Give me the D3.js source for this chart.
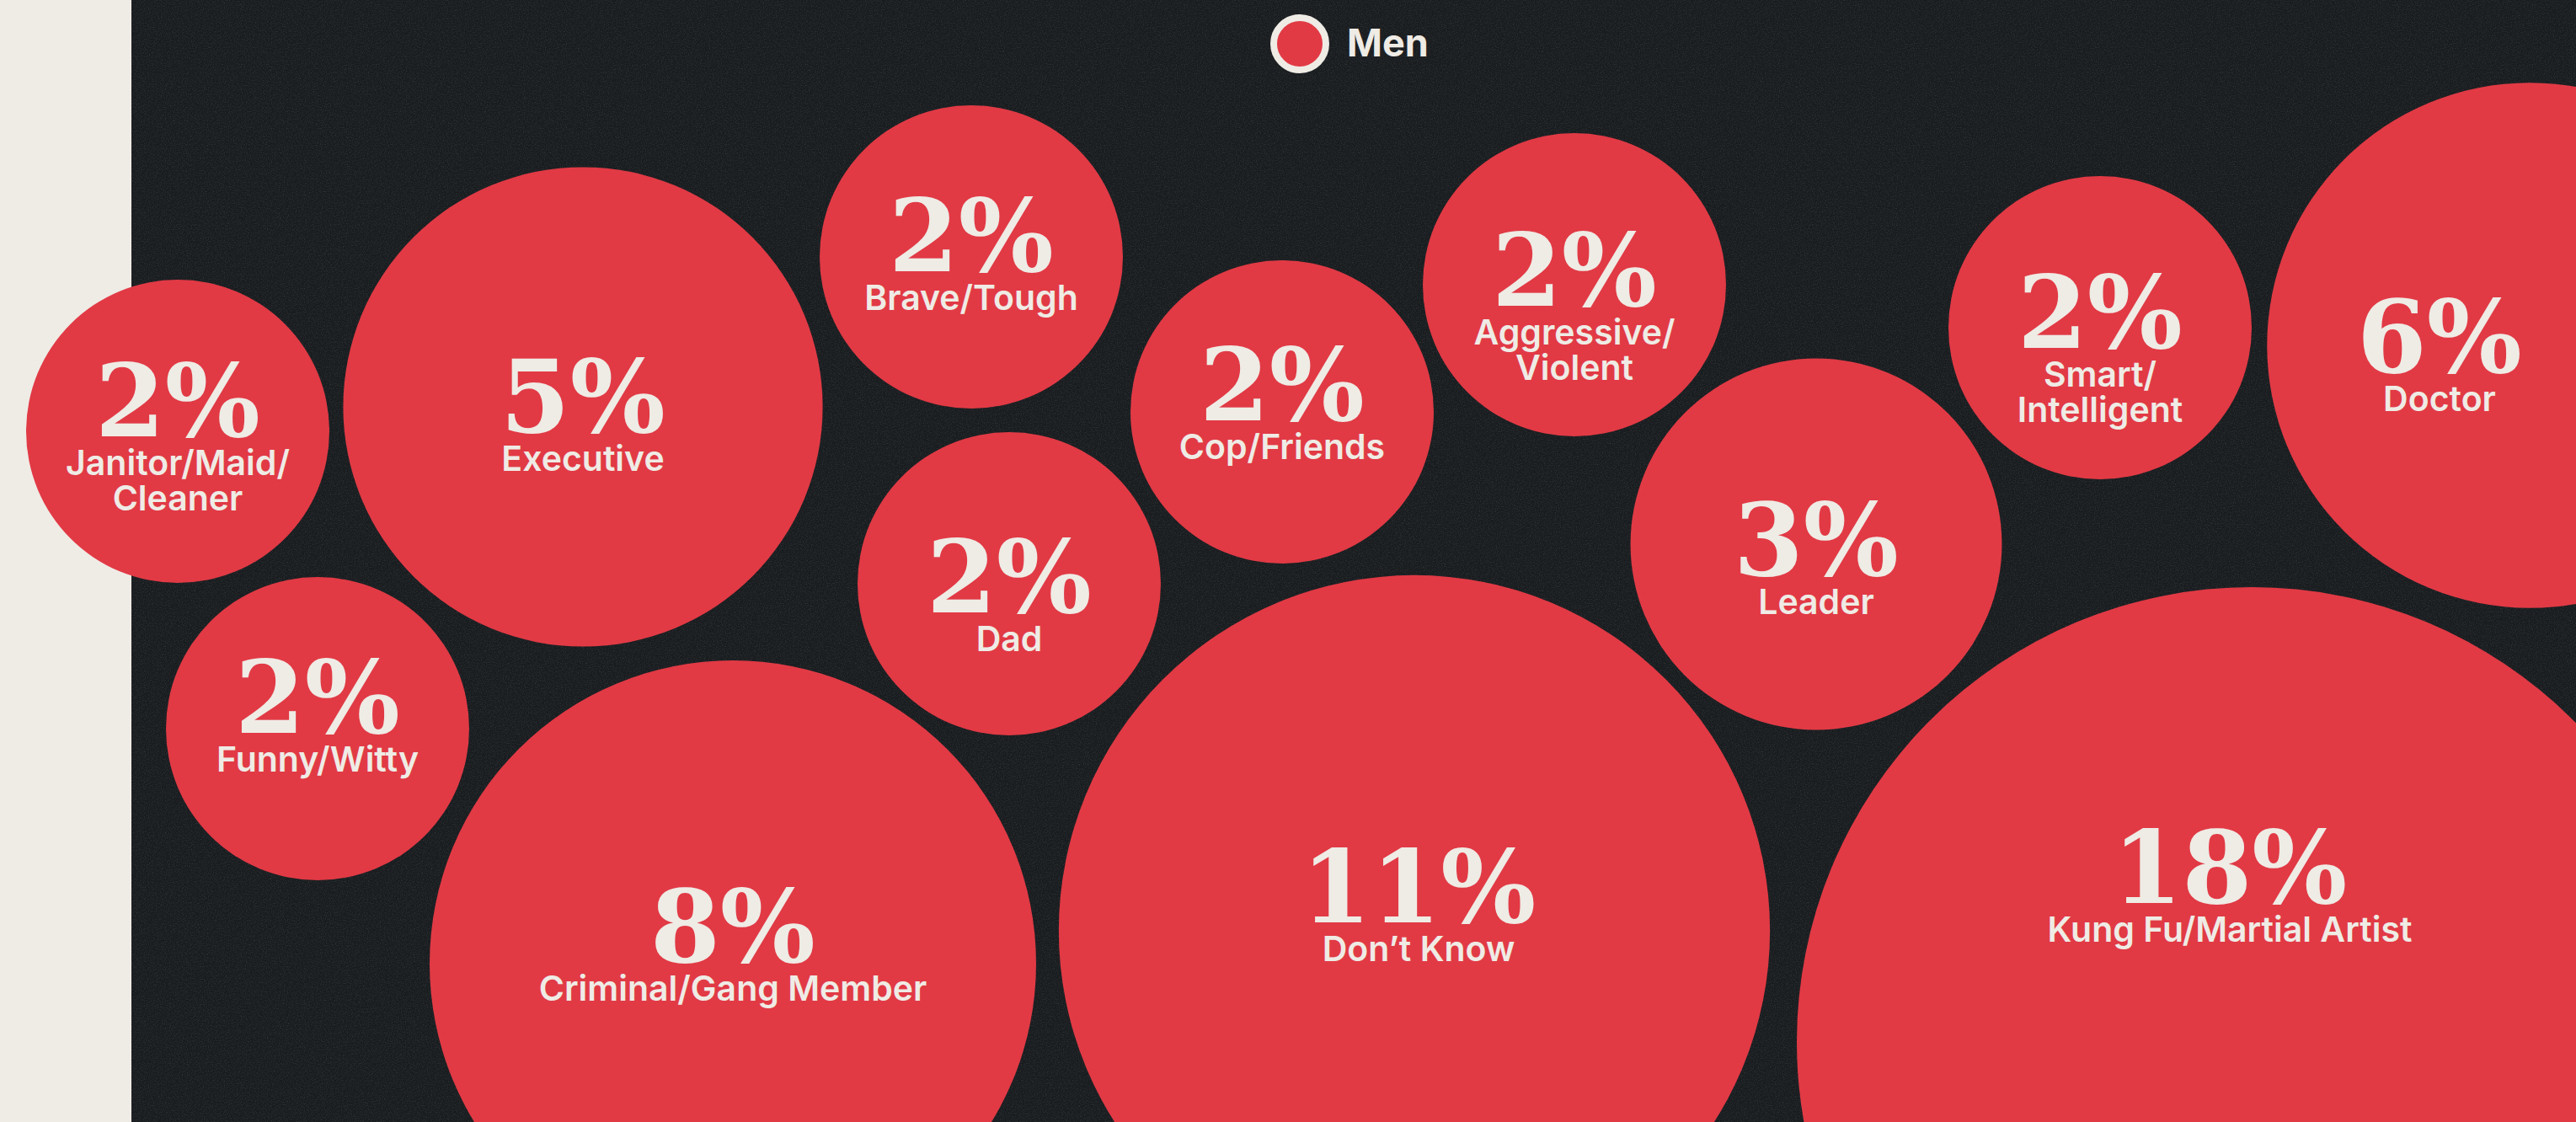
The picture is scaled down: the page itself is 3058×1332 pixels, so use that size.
<!DOCTYPE html>
<html><head><meta charset="utf-8">
<script src="https://cdn.jsdelivr.net/npm/d3@7"></script>
<style>html,body{margin:0;padding:0;background:#1a1d20;overflow:hidden}</style>
</head><body><svg id="chart"></svg>
<script>
// ---- data ----
const categories = ["Janitor/Maid/Cleaner","Executive","Funny/Witty","Brave/Tough","Dad","Cop/Friends","Criminal/Gang Member","Don\u2019t Know","Aggressive/Violent","Leader","Smart/Intelligent","Doctor","Kung Fu/Martial Artist"];
const values = [2, 5, 2, 2, 2, 2, 8, 11, 2, 3, 2, 6, 18];
const labelLines = [["Janitor/Maid/","Cleaner"],["Executive"],["Funny/Witty"],["Brave/Tough"],["Dad"],["Cop/Friends"],["Criminal/Gang Member"],["Don\u2019t Know"],["Aggressive/","Violent"],["Leader"],["Smart/","Intelligent"],["Doctor"],["Kung Fu/Martial Artist"]];
const seriesName = "Men";

// ---- layout (design units, mapped through scales) ----
const centers = [[211,512],[692,483],[377,865],[1153,305],[1198,693],[1522,489],[870,1144],[1679,1105],[1869,338],[2156,646],[2493,389],[3003,410],[2673,1237]];
const labelAnchors = [[211,518],[692,513],[377,870],[1153,322],[1198,727],[1522,499],[870,1142],[1684,1095],[1869,363],[2156,683],[2493,413],[2896,442],[2647,1072]];

const W = 3058, H = 1332;
const RED = "#e13a45", CREAM = "#efebe5", DARK = "#191c1f";

const x = d3.scaleLinear().domain([0, 3058]).range([0, W]);
const y = d3.scaleLinear().domain([0, 1332]).range([0, H]);
const r = d3.scaleSqrt().domain([0, d3.max(values)]).range([0, 540]);

const data = categories.map((c, i) => ({
  category: c, value: values[i], lines: labelLines[i],
  cx: centers[i][0], cy: centers[i][1], lx: labelAnchors[i][0], ly: labelAnchors[i][1]
}));

const svg = d3.select("#chart").attr("width", W).attr("height", H);

// background
svg.append("rect").attr("x", 0).attr("y", 0).attr("width", W).attr("height", H).attr("fill", DARK);
svg.append("rect").attr("x", 0).attr("y", 0).attr("width", x(156)).attr("height", H).attr("fill", CREAM);

// subtle grain
const defs = svg.append("defs");
const f = defs.append("filter").attr("id", "grain").attr("x", 0).attr("y", 0).attr("width", "100%").attr("height", "100%");
f.append("feTurbulence").attr("type", "fractalNoise").attr("baseFrequency", 0.8).attr("numOctaves", 2).attr("seed", 3).attr("result", "n");
f.append("feColorMatrix").attr("in", "n").attr("type", "matrix")
  .attr("values", "0 0 0 0 1  0 0 0 0 1  0 0 0 0 1  0 0 0 -2.2 1.25");
svg.append("rect").attr("x", x(156)).attr("y", 0).attr("width", W - x(156)).attr("height", H)
  .attr("filter", "url(#grain)").attr("opacity", 0.10);

// bubbles
const g = svg.append("g");
g.selectAll("circle.bubble").data(data).join("circle")
  .attr("class", "bubble")
  .attr("cx", d => x(d.cx)).attr("cy", d => y(d.cy)).attr("r", d => r(d.value))
  .attr("fill", RED);

// labels: one text element per bubble (value + category lines)
g.selectAll("text.lab").data(data).join("text")
  .attr("class", "lab")
  .attr("text-anchor", "middle")
  .attr("fill", CREAM)
  .each(function(d) {
    const t = d3.select(this);
    t.append("tspan")
      .attr("x", x(d.lx)).attr("y", y(d.ly))
      .attr("font-family", "'DejaVu Serif', serif").attr("font-weight", 700)
      .attr("font-size", 119)
      .text(d.value + "%");
    d.lines.forEach((ln, j) => {
      t.append("tspan")
        .attr("x", x(d.lx)).attr("y", y(d.ly + 46 + j * 42))
        .attr("font-family", "Inter, 'Noto Sans', sans-serif").attr("font-weight", 600)
        .attr("font-size", 41)
        .text(ln);
    });
  });

// legend
const lg = svg.append("g");
lg.append("circle").attr("cx", x(1543)).attr("cy", y(52)).attr("r", 31)
  .attr("fill", RED).attr("stroke", CREAM).attr("stroke-width", 8);
lg.append("text").attr("x", x(1599)).attr("y", y(67))
  .attr("font-family", "Inter, sans-serif").attr("font-weight", 700).attr("font-size", 45)
  .attr("fill", CREAM).text(seriesName);
</script>
</body></html>
